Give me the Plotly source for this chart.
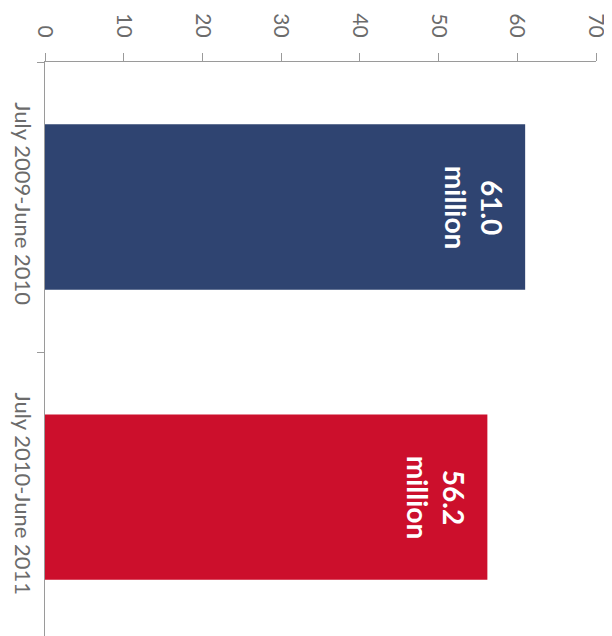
import plotly.graph_objects as go

categories = ["July 2009-June 2010", "July 2010-June 2011"]
values = [61.0, 56.2]
bar_colors = ["#2f4471", "#cc0f2c"]
x_ticks = [0, 10, 20, 30, 40, 50, 60, 70]

fig = go.Figure(
    go.Bar(
        x=values,
        y=categories,
        orientation="h",
        width=0.57,
        marker=dict(color=bar_colors, line=dict(width=0)),
        hoverinfo="x+y",
    )
)

for cat, val in zip(categories, values):
    fig.add_annotation(
        x=val,
        y=cat,
        xref="x",
        yref="y",
        text=f"{val:.1f}<br>million",
        showarrow=False,
        textangle=90,
        xanchor="right",
        yanchor="middle",
        xshift=-14,
        font=dict(family="Lato", size=28, color="white", weight="bold"),
    )

# page body has an 8px margin, so the figure is sized to fill the window
fig.update_layout(
    width=604,
    height=628,
    margin=dict(l=37, r=16, t=54, b=0, pad=0, autoexpand=False),
    paper_bgcolor="white",
    plot_bgcolor="white",
    showlegend=False,
    font=dict(family="Lato", color="#6b6b6b"),
)

fig.update_xaxes(
    side="top",
    range=[0, 70],
    tickvals=x_ticks,
    ticktext=[str(v) for v in x_ticks],
    tickangle=90,
    ticks="outside",
    ticklen=8,
    tickcolor="#9a9a9a",
    showline=True,
    linecolor="#9a9a9a",
    linewidth=1,
    showgrid=False,
    zeroline=False,
    automargin=False,
    ticklabelstandoff=8,
    tickfont=dict(family="Lato", size=21, color="#6b6b6b"),
)

fig.update_yaxes(
    type="category",
    range=[1.479, -0.5],
    tickangle=90,
    ticks="outside",
    tickson="boundaries",
    ticklen=7,
    tickcolor="#9a9a9a",
    showline=True,
    linecolor="#9a9a9a",
    linewidth=1,
    showgrid=False,
    zeroline=False,
    automargin=False,
    ticklabelstandoff=3,
    tickfont=dict(family="Lato", size=22, color="#6b6b6b"),
)

fig.write_html("out.html")
